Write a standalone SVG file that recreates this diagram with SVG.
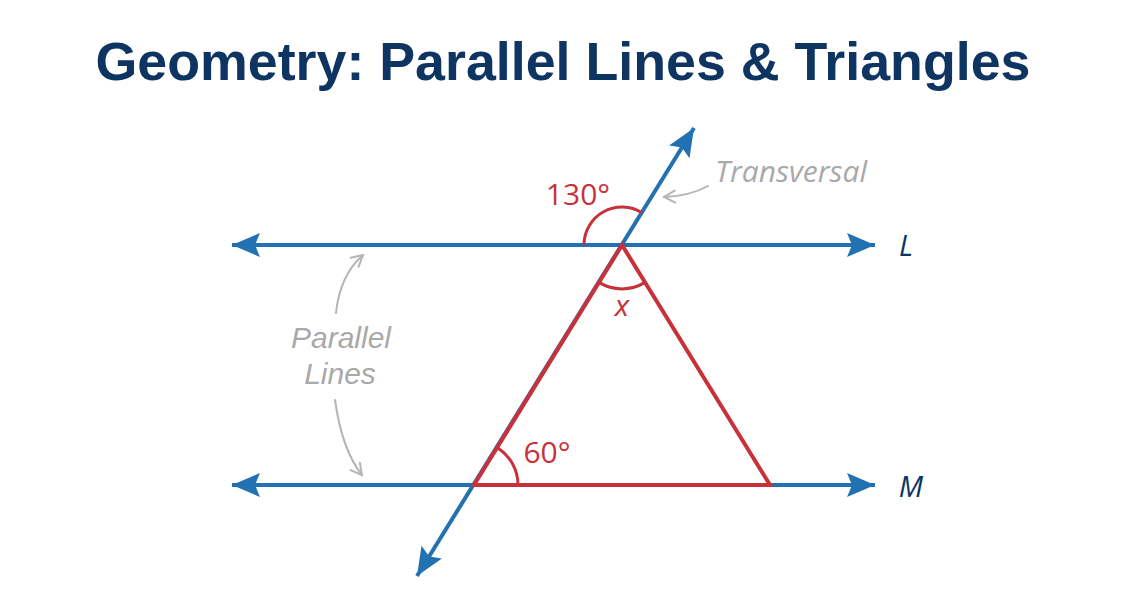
<svg xmlns="http://www.w3.org/2000/svg" width="1126" height="614" viewBox="0 0 1126 614">
<style>
.title{font-family:"Liberation Sans",Arial,sans-serif;font-weight:bold;font-size:54px;fill:#0e3461}
.blue{stroke:#2271b3;stroke-width:4;fill:none}
.red{stroke:#c8313a;stroke-width:4;fill:none;stroke-linejoin:miter}
.arc{stroke:#c8313a;stroke-width:3;fill:none}
.redt{font-family:"Open Sans","Liberation Sans",sans-serif;font-size:30px;fill:#c8313a}
.note{font-family:"Open Sans","Liberation Sans",sans-serif;font-style:italic;font-size:30px;fill:#a9a9a9}
.note2{font-family:"Liberation Sans",Arial,sans-serif;font-style:italic;font-size:30px;fill:#a9a9a9}
.gray{stroke:#b5b5b5;stroke-width:2;fill:none;stroke-linecap:round}
.lab{font-family:"Open Sans","Liberation Sans",sans-serif;font-style:italic;font-size:29px;fill:#0e3461}
</style>
<defs>
<marker id="ah" markerUnits="userSpaceOnUse" markerWidth="32" markerHeight="28" viewBox="0 0 32 28" refX="30" refY="14" orient="auto-start-reverse">
<path d="M30,14 L2,2 L7,14 L2,26 Z" fill="#2271b3"/>
</marker>
<marker id="gh" markerUnits="userSpaceOnUse" markerWidth="16" markerHeight="16" viewBox="0 0 16 16" refX="14" refY="8" orient="auto">
<path d="M3,2 L14,8 L3,14" fill="none" stroke="#b5b5b5" stroke-width="2" stroke-linecap="round"/>
</marker>
</defs>
<rect width="1126" height="614" fill="#ffffff"/>
<text class="title" x="563" y="80" text-anchor="middle" textLength="935" lengthAdjust="spacingAndGlyphs">Geometry: Parallel Lines &amp; Triangles</text>
<g id="connectors">
<line id="lineL" class="blue" x1="232" y1="245" x2="875" y2="245" marker-start="url(#ah)" marker-end="url(#ah)"/>
<line id="lineM" class="blue" x1="232" y1="485" x2="875" y2="485" marker-start="url(#ah)" marker-end="url(#ah)"/>
<line id="transversal" class="blue" x1="417" y1="576" x2="694" y2="128" marker-start="url(#ah)" marker-end="url(#ah)"/>
<path class="gray" d="M708,186 Q690,196 664,197" marker-end="url(#gh)"/>
<path class="gray" d="M336,313 Q340,275 363,255" marker-end="url(#gh)"/>
<path class="gray" d="M335,400 Q342,450 362,475" marker-end="url(#gh)"/>
</g>
<g id="triangle">
<path class="red" d="M622,245 L474,485 L770,485 Z"/>
</g>
<g id="angle130">
<path class="arc" d="M584,245 A38,38 0 0 1 642,212.7"/>
<text class="redt" x="578" y="205" text-anchor="middle">130°</text>
</g>
<g id="angleX">
<path class="arc" d="M599,282.4 A44,44 0 0 0 645,282.4"/>
<text class="redt" x="622" y="316" text-anchor="middle" font-style="italic">x</text>
</g>
<g id="angle60">
<path class="arc" d="M518,485 A44,44 0 0 0 497.1,447.6"/>
<text class="redt" x="547" y="463" text-anchor="middle">60°</text>
</g>
<g id="labelTransversal">
<text class="note" x="791" y="182" text-anchor="middle">Transversal</text>
</g>
<g id="labelParallel">
<text class="note2" x="341" y="348" text-anchor="middle">Parallel</text>
<text class="note2" x="340" y="384" text-anchor="middle">Lines</text>
</g>
<g id="labelL"><text class="lab" x="906" y="256" text-anchor="middle">L</text></g>
<g id="labelM"><text class="lab" x="911" y="497" text-anchor="middle">M</text></g>
</svg>
